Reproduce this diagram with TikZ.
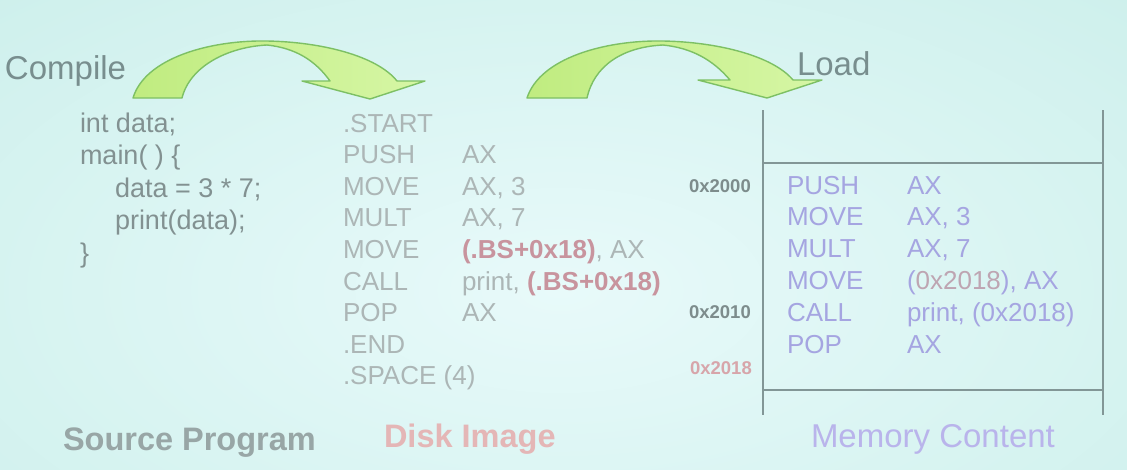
\documentclass[tikz,border=0pt]{standalone}
\usepackage{fontspec}
\setmainfont{Liberation Sans}
\usetikzlibrary{positioning}

\definecolor{bgbase}{RGB}{206,240,236}
\definecolor{bglight}{RGB}{232,250,250}
\definecolor{codegray}{RGB}{130,145,145}
\definecolor{diskgray}{RGB}{172,182,182}
\definecolor{diskred}{RGB}{200,148,158}
\definecolor{memblue}{RGB}{165,165,225}
\definecolor{memmix}{RGB}{190,165,178}
\definecolor{addrgray}{RGB}{125,140,140}
\definecolor{addrpink}{RGB}{215,165,170}
\definecolor{labelgray}{RGB}{152,166,166}
\definecolor{labelpink}{RGB}{228,182,182}
\definecolor{labelblue}{RGB}{185,180,235}
\definecolor{titlegray}{RGB}{120,142,142}
\definecolor{linegray}{RGB}{130,150,150}
\definecolor{arrowleft}{RGB}{192,236,128}
\definecolor{arrowright}{RGB}{214,246,165}
\definecolor{arrowedge}{RGB}{125,192,100}

\begin{document}
\begin{tikzpicture}[x=1pt,y=-1pt,
  txt/.style={anchor=base west,inner sep=0pt,outer sep=0pt},
  src/.style={txt,text=codegray,font=\fontsize{27}{30}\selectfont},
  disk/.style={txt,text=diskgray,font=\fontsize{26}{30}\selectfont},
  mem/.style={txt,text=memblue,font=\fontsize{26}{30}\selectfont},
  addr/.style={anchor=base east,inner sep=0pt,font=\bfseries\fontsize{18.5}{20}\selectfont},
  caption/.style={txt,font=\fontsize{33}{36}\selectfont},
  title/.style={txt,text=titlegray,font=\fontsize{33}{36}\selectfont},
  memline/.style={draw=linegray,line width=1.6pt},
  bigarrow/.style={draw=arrowedge,line width=1.4pt,line join=round,
    left color=arrowleft,right color=arrowright}
]
% background: soft glow, clipped to the page
\useasboundingbox (0,0) rectangle (1127,469);
\clip (0,0) rectangle (1127,469);
\shade[inner color=bglight,outer color=bgbase] (-260,-120) rectangle (1380,700);

% curved arrows
\path[bigarrow] (133,98) .. controls (145,58) and (210,40) .. (267,41)
  .. controls (322,42) and (377,56) .. (397,81) -- (425,81) -- (370,99) -- (302,81) -- (330,81)
  .. controls (315,60) and (295,48) .. (267,45)
  .. controls (228,47) and (190,66) .. (182,98) -- cycle;
\path[bigarrow] (527,98) .. controls (540,58) and (605,40) .. (663,41)
  .. controls (718,42) and (773,56) .. (793,80) -- (822,80) -- (767,98) -- (698,80) -- (730,80)
  .. controls (713,60) and (692,48) .. (663,45)
  .. controls (622,47) and (594,66) .. (587,98) -- cycle;

% titles
\node[title] (compile) at (5,79) {Compile};
\node[title] (load) at (797,75) {Load};

% source program
\node[src] (s1) at (80,132) {int data;};
\node[src] (s2) at (80,164.5) {main( ) \{};
\node[src] (s3) at (115,197) {data = 3 * 7;};
\node[src] (s4) at (115,229.5) {print(data);};
\node[src] (s5) at (80,262) {\}};

% disk image
\node[disk] (d1) at (343,132) {.START};
\node[disk] (d2) at (343,163.6) {PUSH};   \node[disk] (d2b) at (462,163.6) {AX};
\node[disk] (d3) at (343,195.2) {MOVE};   \node[disk] (d3b) at (462,195.2) {AX, 3};
\node[disk] (d4) at (343,226.8) {MULT};   \node[disk] (d4b) at (462,226.8) {AX, 7};
\node[disk] (d5) at (343,258.4) {MOVE};   \node[disk] (d5b) at (462,258.4) {\textcolor{diskred}{\bfseries(.BS+0x18)}, AX};
\node[disk] (d6) at (343,290) {CALL};     \node[disk] (d6b) at (462,290) {print, \textcolor{diskred}{\bfseries(.BS+0x18)}};
\node[disk] (d7) at (343,321.6) {POP};    \node[disk] (d7b) at (462,321.6) {AX};
\node[disk] (d8) at (343,353.2) {.END};
\node[disk] (d9) at (343,384.8) {.SPACE (4)};

% memory frame
\coordinate (tl) at (763,110);
\coordinate (bl) at (763,415);
\coordinate (tr) at (1103,110);
\coordinate (br) at (1103,415);
\coordinate (h1l) at (763,163);
\coordinate (h1r) at (1103,163);
\coordinate (h2l) at (763,390);
\coordinate (h2r) at (1103,390);
\draw[memline] (tl) -- (bl);
\draw[memline] (tr) -- (br);
\draw[memline] (h1l) -- (h1r);
\draw[memline] (h2l) -- (h2r);

% addresses
\node[addr,text=addrgray] (a1) at (751,192) {0x2000};
\node[addr,text=addrgray] (a2) at (751,318) {0x2010};
\node[addr,text=addrpink] (a3) at (752,374) {0x2018};

% memory content
\node[mem] (m1) at (787,194) {PUSH};  \node[mem] (m1b) at (907,194) {AX};
\node[mem] (m2) at (787,225.5) {MOVE}; \node[mem] (m2b) at (907,225.5) {AX, 3};
\node[mem] (m3) at (787,257) {MULT};  \node[mem] (m3b) at (907,257) {AX, 7};
\node[mem] (m4) at (787,289) {MOVE};  \node[mem] (m4b) at (907,289) {(\textcolor{memmix}{0x2018}), AX};
\node[mem] (m5) at (787,321) {CALL};  \node[mem] (m5b) at (907,321) {print, (0x2018)};
\node[mem] (m6) at (787,353) {POP};   \node[mem] (m6b) at (907,353) {AX};

% captions
\node[caption,text=labelgray,font=\bfseries\fontsize{32.5}{36}\selectfont] (cap1) at (63,450) {Source Program};
\node[caption,text=labelpink,font=\bfseries\fontsize{32.5}{36}\selectfont] (cap2) at (384,447) {Disk Image};
\node[caption,text=labelblue] (cap3) at (811,447) {Memory Content};
\end{tikzpicture}
\end{document}
